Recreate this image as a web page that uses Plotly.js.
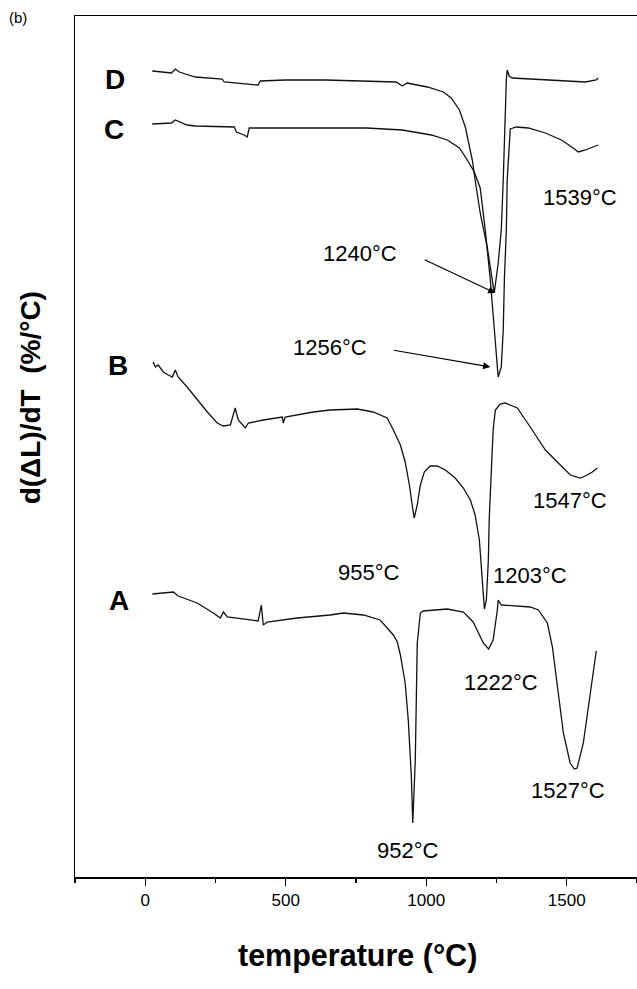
<!DOCTYPE html>
<html>
<head>
<meta charset="utf-8">
<script src="https://cdn.plot.ly/plotly-3.0.1.min.js"></script>
<style>
  html, body { margin: 0; padding: 0; background: #fff; }
  #chart { width: 637px; height: 989px; }
</style>
</head>
<body>
<div id="chart"></div>
<script>
// ---- Data (temperature in °C, signal in arbitrary offset units) ----
const tempD = [25, 78, 93, 107, 121, 178, 235, 274, 281, 352, 402, 409, 498, 641, 787, 893, 915, 932, 1004, 1061, 1089, 1118, 1139, 1164, 1174, 1192, 1217, 1235, 1242, 1256, 1267, 1274, 1278, 1281, 1285, 1288, 1295, 1306, 1363, 1509, 1566, 1605, 1612];
const valD  = [80.6, 80.5, 80.4, 80.8, 80.5, 80.0, 79.9, 79.8, 79.5, 79.3, 79.2, 79.6, 79.7, 79.7, 79.6, 79.5, 79.1, 79.4, 79.0, 78.5, 77.9, 76.7, 75.0, 71.7, 69.7, 66.4, 63.0, 59.7, 58.4, 61.4, 64.7, 69.7, 73.7, 77.2, 79.7, 80.7, 80.1, 79.9, 79.8, 79.6, 79.5, 79.7, 79.9];

const tempC = [25, 93, 107, 149, 178, 267, 317, 324, 352, 363, 370, 498, 641, 787, 915, 1018, 1075, 1118, 1146, 1171, 1192, 1210, 1228, 1239, 1249, 1256, 1267, 1274, 1278, 1285, 1288, 1292, 1295, 1299, 1320, 1363, 1424, 1481, 1523, 1541, 1566, 1612];
const valC  = [75.3, 75.4, 75.7, 75.2, 75.1, 75.0, 75.0, 74.5, 74.2, 74.0, 74.9, 74.9, 74.9, 74.9, 74.7, 74.2, 73.7, 72.9, 71.7, 70.5, 68.9, 64.7, 59.7, 55.7, 52.4, 50.0, 51.0, 54.7, 59.7, 64.7, 69.7, 71.7, 73.7, 74.8, 75.0, 74.9, 74.4, 73.7, 72.9, 72.5, 72.7, 73.2];

const tempB = [28, 36, 46, 64, 82, 96, 107, 117, 149, 185, 221, 256, 278, 303, 320, 331, 356, 367, 420, 488, 491, 498, 598, 658, 755, 811, 861, 883, 908, 925, 940, 950, 957, 968, 979, 993, 1014, 1039, 1068, 1103, 1132, 1157, 1174, 1189, 1196, 1203, 1207, 1214, 1221, 1224, 1231, 1238, 1246, 1263, 1281, 1324, 1370, 1424, 1477, 1513, 1548, 1566, 1591, 1609];
const valB  = [51.5, 51.0, 51.2, 50.5, 50.2, 50.0, 50.7, 50.0, 49.0, 47.7, 46.5, 45.4, 45.1, 45.2, 46.9, 45.7, 44.9, 45.4, 45.7, 46.0, 45.4, 46.0, 46.5, 46.7, 46.8, 46.5, 45.9, 44.7, 43.2, 41.5, 39.2, 37.2, 35.9, 37.2, 39.2, 40.5, 41.1, 41.1, 40.7, 39.9, 38.9, 37.7, 36.2, 33.7, 30.7, 27.7, 26.8, 27.7, 31.7, 35.7, 40.7, 44.7, 46.7, 47.3, 47.4, 46.9, 45.0, 42.7, 41.2, 40.2, 39.9, 40.1, 40.5, 40.9];

const tempA = [25, 64, 100, 117, 185, 242, 267, 278, 292, 402, 413, 420, 434, 541, 658, 705, 776, 836, 883, 897, 908, 925, 936, 947, 952, 961, 964, 968, 979, 989, 1075, 1132, 1167, 1203, 1222, 1238, 1253, 1256, 1267, 1310, 1370, 1399, 1431, 1449, 1466, 1488, 1512, 1527, 1537, 1559, 1584, 1605];
const valA  = [28.3, 28.4, 28.5, 28.1, 27.4, 26.4, 25.9, 26.5, 26.0, 25.6, 27.2, 25.2, 25.5, 25.9, 26.2, 26.4, 26.2, 25.7, 24.2, 23.5, 22.2, 19.4, 15.7, 10.0, 5.4, 11.7, 17.7, 23.4, 26.4, 26.6, 26.8, 26.5, 25.5, 23.4, 22.8, 23.7, 26.7, 27.7, 27.2, 27.1, 27.0, 26.7, 25.4, 23.0, 19.0, 14.4, 11.4, 10.8, 10.9, 13.4, 18.4, 22.6];

const curveNames = ['D', 'C', 'B', 'A'];
const curveLabelT = [-107, -110, -96, -93];
const curveLabelV = [79.8, 74.8, 51.2, 27.7];

const peakText = ['1539°C', '1547°C', '955°C', '1203°C', '1222°C', '1527°C', '952°C'];
const peakTextT = [1548, 1513, 797, 1370, 1267, 1505, 936];
const peakTextV = [68.0, 37.7, 30.5, 30.2, 19.5, 8.7, 2.7];

// arrowed labels: text position, arrow tail, arrow tip
const arrowText = ['1240°C', '1256°C'];
const arrowTextT = [765, 658];
const arrowTextV = [62.4, 53.0];
const arrowTailT = [989, 879];
const arrowTailV = [61.8, 52.7];
const arrowTipT = [1246, 1228];
const arrowTipV = [58.4, 51.0];

const xTickVals = [0, 500, 1000, 1500];
const xTickText = ['0', '500', '1000', '1500'];

// ---- Plot ----
const FONT = 'Liberation Sans, Arial, Helvetica, sans-serif';
const lineStyle = { color: '#111', width: 1.3 };
const traces = [
  { x: tempD, y: valD, name: 'D' },
  { x: tempC, y: valC, name: 'C' },
  { x: tempB, y: valB, name: 'B' },
  { x: tempA, y: valA, name: 'A' }
].map(t => Object.assign(t, { type: 'scatter', mode: 'lines', line: lineStyle, hoverinfo: 'skip' }));

const annotations = [];
curveNames.forEach((n, i) => annotations.push({
  x: curveLabelT[i], y: curveLabelV[i], xref: 'x', yref: 'y', text: n, showarrow: false,
  font: { family: FONT, size: 28, color: '#000', weight: 'bold' }, xanchor: 'center', yanchor: 'middle'
}));
peakText.forEach((t, i) => annotations.push({
  x: peakTextT[i], y: peakTextV[i], xref: 'x', yref: 'y', text: t, showarrow: false,
  font: { family: FONT, size: 22, color: '#000' }, xanchor: 'center', yanchor: 'middle'
}));
arrowText.forEach((t, i) => {
  annotations.push({
    x: arrowTextT[i], y: arrowTextV[i], xref: 'x', yref: 'y', text: t, showarrow: false,
    font: { family: FONT, size: 22, color: '#000' }, xanchor: 'center', yanchor: 'middle'
  });
  annotations.push({
    x: arrowTipT[i], y: arrowTipV[i], xref: 'x', yref: 'y', text: '',
    showarrow: true, axref: 'x', ayref: 'y', ax: arrowTailT[i], ay: arrowTailV[i],
    arrowhead: 2, arrowsize: 1.2, arrowwidth: 1.2, arrowcolor: '#000', standoff: 0
  });
});
annotations.push({
  x: -0.08, y: 0.556, xref: 'paper', yref: 'paper', text: 'd(ΔL)/dT  (%/°C)', showarrow: false,
  textangle: -90, font: { family: FONT, size: 28, color: '#000', weight: 'bold' },
  xanchor: 'center', yanchor: 'middle'
});
annotations.push({
  x: 0.502, y: -0.0906, xref: 'paper', yref: 'paper', text: 'temperature (°C)', showarrow: false,
  font: { family: FONT, size: 30.5, color: '#000', weight: 'bold' }, xanchor: 'center', yanchor: 'middle'
});
annotations.push({
  x: -0.101, y: 0.998, xref: 'paper', yref: 'paper', text: '(b)', showarrow: false,
  font: { family: FONT, size: 15, color: '#000' }, xanchor: 'center', yanchor: 'middle'
});

const layout = {
  width: 637, height: 989,
  margin: { l: 75, r: 0, t: 16, b: 112 },
  paper_bgcolor: '#fff', plot_bgcolor: '#fff',
  showlegend: false,
  xaxis: {
    range: [-250, 1750], showgrid: false, zeroline: false,
    showline: true, linecolor: '#000', linewidth: 1.5, mirror: true,
    ticks: 'outside', ticklen: 7, tickwidth: 1.3, tickcolor: '#000',
    tickvals: xTickVals, ticktext: xTickText,
    tickfont: { family: FONT, size: 17, color: '#000' },
    minor: { tickvals: [-250, 250, 750, 1250, 1750], ticks: 'outside', ticklen: 4, tickwidth: 1.2, tickcolor: '#000' }
  },
  yaxis: {
    range: [0, 86.1], showgrid: false, zeroline: false,
    showline: true, linecolor: '#000', linewidth: 1.5, mirror: false,
    ticks: '', showticklabels: false
  },
  annotations: annotations
};

Plotly.newPlot('chart', traces, layout, { staticPlot: true, displayModeBar: false });
</script>
</body>
</html>
